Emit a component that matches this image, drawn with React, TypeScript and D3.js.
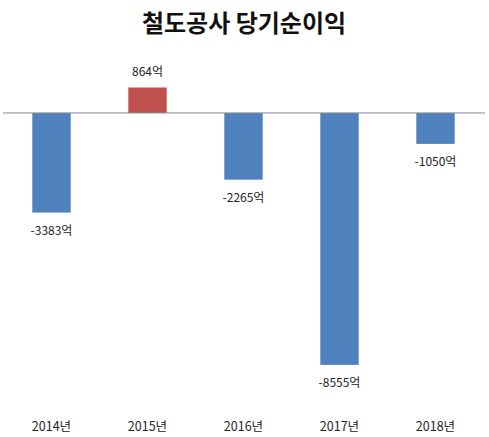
import React from "react";
import * as d3 from "d3";

const title = "철도공사 당기순이익";
const years = ["2014년", "2015년", "2016년", "2017년", "2018년"];
const values = [-3383, 864, -2265, -8555, -1050];
const valueLabels = ["-3383억", "864억", "-2265억", "-8555억", "-1050억"];

const W = 489;
const H = 437;
const FONT = "'Noto Sans CJK KR', 'Noto Sans', sans-serif";

export default function App() {
  const x = d3.scaleBand<string>().domain(years).range([3.5, 483.5]).paddingInner(0.6).paddingOuter(0.3);
  const y = d3.scaleLinear().domain([-9000, 1000]).range([378, 83.5]);
  const y0 = y(0);

  return (
    <svg width={W} height={H} style={{ position: "absolute", left: 0, top: 0, background: "#fff" }}>
      <rect width={W} height={H} fill="#fff" />
      <text x={W / 2 - 0.5} y={31.5} textAnchor="middle" fontFamily={FONT} fontWeight="bold" fontSize={24} fill="#111">
        {title}
      </text>
      {values.map((v, i) => {
        const bx = x(years[i])!;
        const top = Math.min(y(v), y0);
        const h = Math.abs(y(v) - y0);
        return (
          <rect key={i} x={bx} y={top} width={x.bandwidth()} height={h} fill={v >= 0 ? "#C0504D" : "#4F81BD"} />
        );
      })}
      <line x1={3} x2={485} y1={y0} y2={y0} stroke="#868686" strokeWidth={1} />
      {values.map((v, i) => {
        const cx = x(years[i])! + x.bandwidth() / 2;
        const ly = v >= 0 ? y(v) - 12 : y(v) + 22;
        return (
          <text key={i} x={cx} y={ly} textAnchor="middle" fontFamily={FONT} fontSize={12} fill="#222">
            {valueLabels[i]}
          </text>
        );
      })}
      {years.map((yr, i) => (
        <text key={yr} x={x(yr)! + x.bandwidth() / 2} y={431} textAnchor="middle" fontFamily={FONT} fontSize={12.5} fill="#222">
          {yr}
        </text>
      ))}
    </svg>
  );
}
